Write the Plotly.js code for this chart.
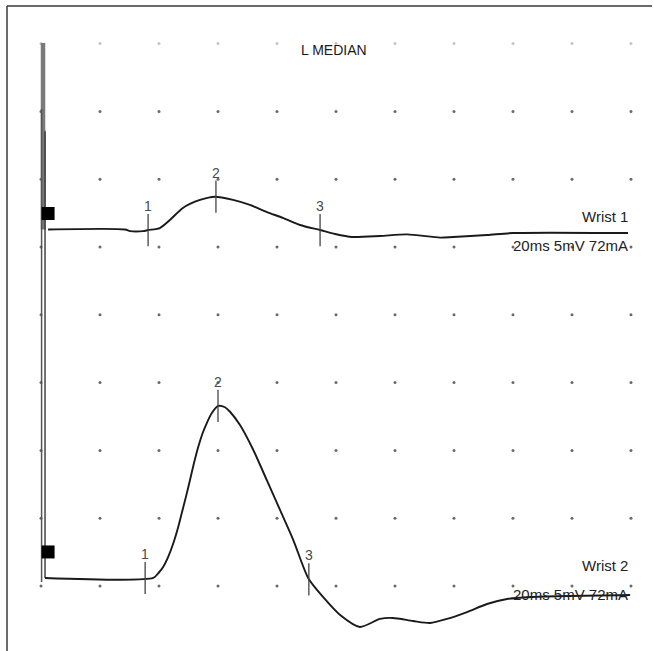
<!DOCTYPE html>
<html>
<head>
<meta charset="utf-8">
<script src="https://cdn.plot.ly/plotly-3.0.1.min.js"></script>
<style>
  html, body { margin: 0; padding: 0; background: #ffffff; }
  #chart { width: 654px; height: 651px; }
</style>
</head>
<body>
<div id="chart"></div>
<script>
// ---- Data ----
// grid: time divisions (ms) and amplitude divisions
const gridTimes = [0, 20, 40, 60, 80, 100, 120, 140, 160, 180, 200];
const gridDivs = [0, 1, 2, 3, 4, 5, 6, 7, 8];

// Wrist 1 waveform (time ms, amplitude mV relative to baseline)
const w1Time = [2.4, 28.5, 30.2, 34.6, 36.3, 40.3, 43.7, 48.1, 53.9, 59.0, 65.1, 70.8, 76.6, 82.0, 87.8, 94.6, 99.7, 105.4, 114.9, 124.1, 135.3, 139.7, 151.2, 160.0, 199.0];
const w1Amp  = [0, 0, -0.12, -0.12, -0.04, 0.11, 0.70, 1.59, 2.18, 2.42, 2.18, 1.81, 1.29, 0.85, 0.33, -0.04, -0.33, -0.55, -0.48, -0.36, -0.60, -0.55, -0.41, -0.26, -0.26];

// Wrist 2 waveform
const w2Time = [1.36, 38.07, 39.76, 41.46, 43.15, 44.85, 46.54, 47.70, 49.15, 50.51, 51.86, 53.32, 54.81, 56.17, 57.86, 60.10, 62.37, 64.07, 67.46, 71.97, 76.51, 81.02, 85.53, 90.61, 95.6, 101.4, 108.1, 114.9, 119.3, 126.1, 131.9, 137.6, 144.4, 151.2, 158.0, 165.8, 199.7];
const w2Amp  = [0, 0, 0.35, 0.83, 1.57, 2.56, 3.78, 4.77, 6.00, 7.23, 8.48, 9.68, 10.69, 11.41, 12.15, 12.69, 12.59, 12.26, 11.28, 9.44, 7.23, 5.02, 2.80, -0.02, -1.40, -2.73, -3.61, -3.02, -2.95, -3.17, -3.32, -3.02, -2.51, -1.92, -1.55, -1.40, -1.25];

// stimulus artifacts (time ms, amplitude mV relative to the baseline of each trace)
const stim1Time = [0.68, 0.68];
const stim1Amp  = [13.75, 0];
const stim1bTime = [1.36, 1.36];
const stim1bAmp  = [7.3, 0];
const stim2Time = [0.2, 0.2];
const stim2Amp  = [34.6, -0.3];
const stim2bTime = [1.36, 1.36];
const stim2bAmp  = [32.9, 0];

// latency markers
const m1Labels = ["1", "2", "3"];
const m1Time = [36.3, 59.3, 94.6];
const m1Amp  = [-0.04, 2.42, -0.04];
const m2Labels = ["1", "2", "3"];
const m2Time = [35.3, 60.0, 90.8];
const m2Amp  = [0, 12.69, -0.1];

// cursor squares
const cursorTime = [2.4, 2.4];
const cursorAmp = [1.18, 1.92];

// texts
const title = "L MEDIAN";
const traceNames = ["Wrist 1", "Wrist 2"];
const settings = ["20ms 5mV 72mA", "20ms 5mV 72mA"];

// ---- Layout constants ----
const mvPerDiv = 5;
const base1 = 5.258;  // baseline (divisions) of trace 1
const base2 = 0.118;  // baseline (divisions) of trace 2
const toY = (amps, base) => amps.map(a => base + a / mvPerDiv);

// grid dots
const dotX = [], dotY = [], dotC = [];
gridDivs.forEach(d => gridTimes.forEach(t => {
  dotX.push(t); dotY.push(d);
  dotC.push(d === 8 ? '#c4c4c4' : '#6a6a6a');
}));

const lineCol = '#1a1a1a';
const traces = [
  { x: dotX, y: dotY, mode: 'markers', type: 'scatter', hoverinfo: 'skip',
    marker: { size: 3, color: dotC, line: { width: 0 } } },
  { x: stim1Time, y: toY(stim1Amp, base1), mode: 'lines', type: 'scatter', hoverinfo: 'skip',
    line: { color: '#7a7a7a', width: 4.5 } },
  { x: stim1bTime, y: toY(stim1bAmp, base1), mode: 'lines', type: 'scatter', hoverinfo: 'skip',
    line: { color: '#555', width: 1.2 } },
  { x: stim2Time, y: toY(stim2Amp, base2), mode: 'lines', type: 'scatter', hoverinfo: 'skip',
    line: { color: '#555', width: 1.5 } },
  { x: stim2bTime, y: toY(stim2bAmp, base2), mode: 'lines', type: 'scatter', hoverinfo: 'skip',
    line: { color: '#444', width: 1.5 } },
  { x: w1Time, y: toY(w1Amp, base1), mode: 'lines', type: 'scatter', hoverinfo: 'skip',
    line: { color: lineCol, width: 1.9, shape: 'spline', smoothing: 0.7 } },
  { x: w2Time, y: toY(w2Amp, base2), mode: 'lines', type: 'scatter', hoverinfo: 'skip',
    line: { color: lineCol, width: 1.9, shape: 'spline', smoothing: 0.7 } },
  { x: m1Time, y: toY(m1Amp, base1), mode: 'markers', type: 'scatter', hoverinfo: 'skip',
    marker: { symbol: 'line-ns', size: 23, line: { color: '#444', width: 1.3 } } },
  { x: m2Time, y: toY(m2Amp, base2), mode: 'markers', type: 'scatter', hoverinfo: 'skip',
    marker: { symbol: 'line-ns', size: 23, line: { color: '#444', width: 1.3 } } },
  { x: cursorTime, y: [base1 + cursorAmp[0] / mvPerDiv, base2 + cursorAmp[1] / mvPerDiv],
    mode: 'markers', type: 'scatter', hoverinfo: 'skip',
    marker: { symbol: 'square', size: 13, color: '#000' } }
];

const annotations = [];
const font = 'Liberation Sans, Arial, sans-serif';
m1Labels.forEach((l, i) => annotations.push({
  x: m1Time[i], y: base1 + m1Amp[i] / mvPerDiv, xref: 'x', yref: 'y', text: l, showarrow: false,
  yshift: 24, font: { family: font, size: 14, color: '#4a4a4a' } }));
m2Labels.forEach((l, i) => annotations.push({
  x: m2Time[i], y: base2 + m2Amp[i] / mvPerDiv, xref: 'x', yref: 'y', text: l, showarrow: false,
  yshift: 24, font: { family: font, size: 14, color: '#4a4a4a' } }));
annotations.push({ x: 99.3, y: 7.905, xref: 'x', yref: 'y', text: title, showarrow: false,
  font: { family: font, size: 14, color: '#1a1a1a' } });
[base1, base2].forEach((b, i) => {
  annotations.push({ x: 199.5, y: b + 0.19, xref: 'x', yref: 'y', text: traceNames[i], showarrow: false,
    xanchor: 'right', font: { family: font, size: 15, color: '#222' } });
  annotations.push({ x: 199.8, y: b - 0.24, xref: 'x', yref: 'y', text: settings[i], showarrow: false,
    xanchor: 'right', font: { family: font, size: 15, color: '#222' } });
});

const layout = {
  width: 654, height: 651,
  margin: { l: 0, r: 0, t: 0, b: 0 },
  paper_bgcolor: '#ffffff', plot_bgcolor: '#ffffff',
  showlegend: false,
  xaxis: { range: [-13.90, 207.8], visible: false, fixedrange: true },
  yaxis: { range: [-0.959, 8.643], visible: false, fixedrange: true },
  annotations: annotations,
  shapes: [
    { type: 'line', xref: 'paper', yref: 'paper', x0: 7 / 654, x1: 652 / 654, y0: 1 - 6 / 651, y1: 1 - 6 / 651,
      line: { color: '#3a3a3a', width: 1.5 } },
    { type: 'line', xref: 'paper', yref: 'paper', x0: 7 / 654, x1: 7 / 654, y0: 1 - 6 / 651, y1: 0,
      line: { color: '#3a3a3a', width: 1.5 } }
  ]
};

Plotly.newPlot('chart', traces, layout, { staticPlot: true, displayModeBar: false });
</script>
</body>
</html>
